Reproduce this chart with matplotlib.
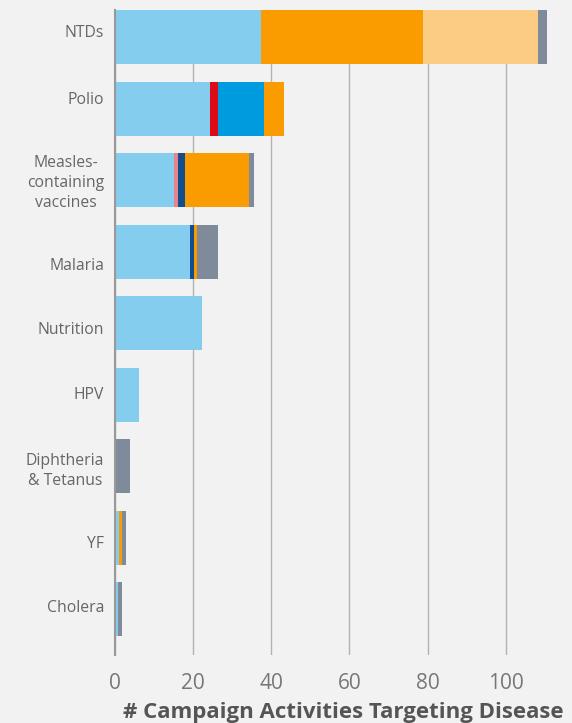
import matplotlib
matplotlib.use("Agg")
import matplotlib.pyplot as plt
import matplotlib.transforms as mtransforms
import numpy as np

# diseases, top to bottom
diseases = ["NTDs", "Polio", "Measles-\ncontaining\nvaccines", "Malaria", "Nutrition",
            "HPV", "Diphtheria\n& Tetanus", "YF", "Cholera"]

# stacked segments (one list per colour group, in stacking order)
light_blue   = [37.4, 24.3, 15.0, 19.2, 22.2, 6.1, 0.0, 1.0, 0.6]
red          = [0.0, 2.0, 0.0, 0.0, 0.0, 0.0, 0.0, 0.0, 0.0]
pink         = [0.0, 0.0, 1.0, 0.0, 0.0, 0.0, 0.0, 0.0, 0.0]
bright_blue  = [0.0, 11.8, 0.0, 0.0, 0.0, 0.0, 0.0, 0.0, 0.0]
dark_blue    = [0.0, 0.0, 1.8, 1.0, 0.0, 0.0, 0.0, 0.0, 0.0]
orange       = [41.5, 5.2, 16.4, 0.8, 0.0, 0.0, 0.0, 0.7, 0.0]
light_orange = [29.5, 0.0, 0.0, 0.0, 0.0, 0.0, 0.0, 0.0, 0.0]
grey         = [2.3, 0.0, 1.3, 5.4, 0.0, 0.0, 3.8, 1.1, 1.0]

series = [light_blue, red, pink, bright_blue, dark_blue, orange, light_orange, grey]
colors = ["#85cdee", "#dd0a17", "#e8838a", "#009bde", "#124e8e", "#fa9b00", "#fccc84", "#7f8a9a"]

# the category labels in the original sit a little off their bars (pixels, + is up)
label_shift = [6, 11, 1, -12, -5, 2, -1, -4, 3]

plt.rcParams['font.family'] = ['Open Sans', 'DejaVu Sans']

fig = plt.figure(figsize=(5.72, 7.23), dpi=100, facecolor="#f2f2f2")
ax = fig.add_axes([0.2015, 0.094, 0.7985, 0.892])
ax.set_facecolor("#f2f2f2")

y = np.arange(len(diseases))
left = np.zeros(len(diseases))
for vals, c in zip(series, colors):
    vals = np.array(vals)
    ax.barh(y, vals, left=left, height=0.755, color=c, zorder=2)
    left += vals

ax.set_xlim(0, 117)
ax.set_ylim(8.64, -0.378)
ax.set_xticks([0, 20, 40, 60, 80, 100])
ax.xaxis.grid(True, color="#b3b3b3", linewidth=1, zorder=0)
ax.tick_params(axis="x", length=0, pad=13, labelsize=15, labelcolor="#777777")
ax.set_yticks(y)
ax.set_yticklabels(diseases, multialignment="center", linespacing=1.3)
ax.tick_params(axis="y", length=0, pad=8, labelsize=11.3, labelcolor="#666666")
for lab, dy in zip(ax.get_yticklabels(), label_shift):
    lab.set_transform(lab.get_transform() +
                      mtransforms.ScaledTranslation(0, dy / 100, fig.dpi_scale_trans))

for s in ["top", "right", "bottom"]:
    ax.spines[s].set_visible(False)
ax.spines["left"].set_color("#999999")
ax.spines["left"].set_linewidth(1.5)
ax.spines["left"].set_zorder(3)

ax.set_xlabel("# Campaign Activities Targeting Disease", fontsize=16, fontweight="bold",
              color="#555555", labelpad=6)

fig.savefig("out.png", dpi=100, facecolor=fig.get_facecolor())
